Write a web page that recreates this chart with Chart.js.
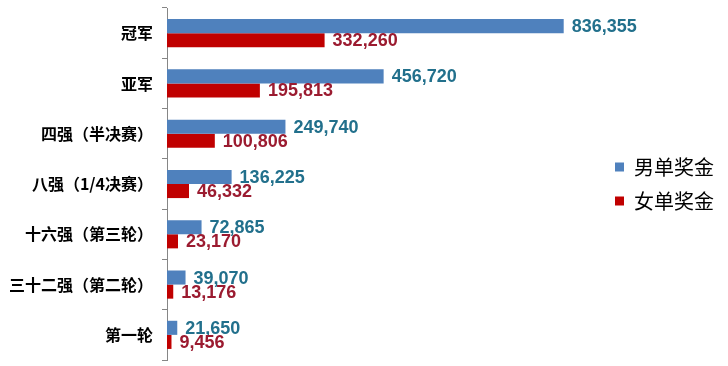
<!DOCTYPE html>
<html>
<head>
<meta charset="utf-8">
<script src="https://cdn.jsdelivr.net/npm/chart.js@4.4.0/dist/chart.umd.min.js"></script>
<style>
  html, body { margin: 0; padding: 0; background: #fff; }
  #wrap { width: 728px; height: 366px; }
</style>
</head>
<body>
<div id="wrap"><canvas id="prizeChart" width="728" height="366"></canvas></div>
<script>
'use strict';

const categories = ['冠军', '亚军', '四强（半决赛）', '八强（1/4决赛）', '十六强（第三轮）', '三十二强（第二轮）', '第一轮'];
const seriesNames = ['男单奖金', '女单奖金'];
const menPrize = [836355, 456720, 249740, 136225, 72865, 39070, 21650];
const womenPrize = [332260, 195813, 100806, 46332, 23170, 13176, 9456];

const labelColors = ['#22708C', '#9B1B30'];

// draws the value next to the end of each bar
const barValueLabels = {
    id: 'barValueLabels',
    afterDatasetsDraw(chart) {
        const ctx = chart.ctx;
        ctx.save();
        ctx.font = 'bold 18px "Liberation Sans", Arial, sans-serif';
        ctx.textAlign = 'left';
        ctx.textBaseline = 'middle';
        chart.data.datasets.forEach((ds, i) => {
            const meta = chart.getDatasetMeta(i);
            ctx.fillStyle = labelColors[i];
            meta.data.forEach((bar, j) => {
                const text = ds.data[j].toLocaleString('en-US');
                ctx.fillText(text, bar.x + 8, bar.y + 1);
            });
        });
        ctx.restore();
    }
};

const ctx = document.getElementById('prizeChart').getContext('2d');
new Chart(ctx, {
    type: 'bar',
    data: {
        labels: categories,
        datasets: [{
            label: seriesNames[0],
            data: menPrize,
            backgroundColor: '#4F81BD',
            barPercentage: 1.0,
            categoryPercentage: 0.56
        }, {
            label: seriesNames[1],
            data: womenPrize,
            backgroundColor: '#C00000',
            barPercentage: 1.0,
            categoryPercentage: 0.56
        }]
    },
    options: {
        indexAxis: 'y',
        responsive: false,
        animation: false,
        layout: {
            padding: { top: 8, bottom: 6, left: 0, right: 4 }
        },
        scales: {
            x: {
                display: false,
                min: 0,
                max: 915000
            },
            y: {
                // labels sit in the middle of each band, no extra room needed
                afterFit(scale) {
                    scale.paddingTop = 0;
                    scale.paddingBottom = 0;
                },
                grid: {
                    offset: true,
                    drawOnChartArea: false,
                    drawTicks: true,
                    tickLength: 5,
                    color: '#868686'
                },
                border: { display: true, color: '#868686', width: 1 },
                ticks: {
                    color: '#000',
                    padding: 9,
                    font: { family: '"Noto Sans CJK SC", sans-serif', size: 16, weight: 'bold' }
                }
            }
        },
        plugins: {
            tooltip: { enabled: false },
            legend: {
                position: 'right',
                labels: {
                    boxWidth: 9,
                    boxHeight: 9,
                    padding: 14,
                    color: '#000',
                    font: { family: '"Noto Sans CJK SC", sans-serif', size: 20 }
                }
            }
        }
    },
    plugins: [barValueLabels]
});
</script>
</body>
</html>
